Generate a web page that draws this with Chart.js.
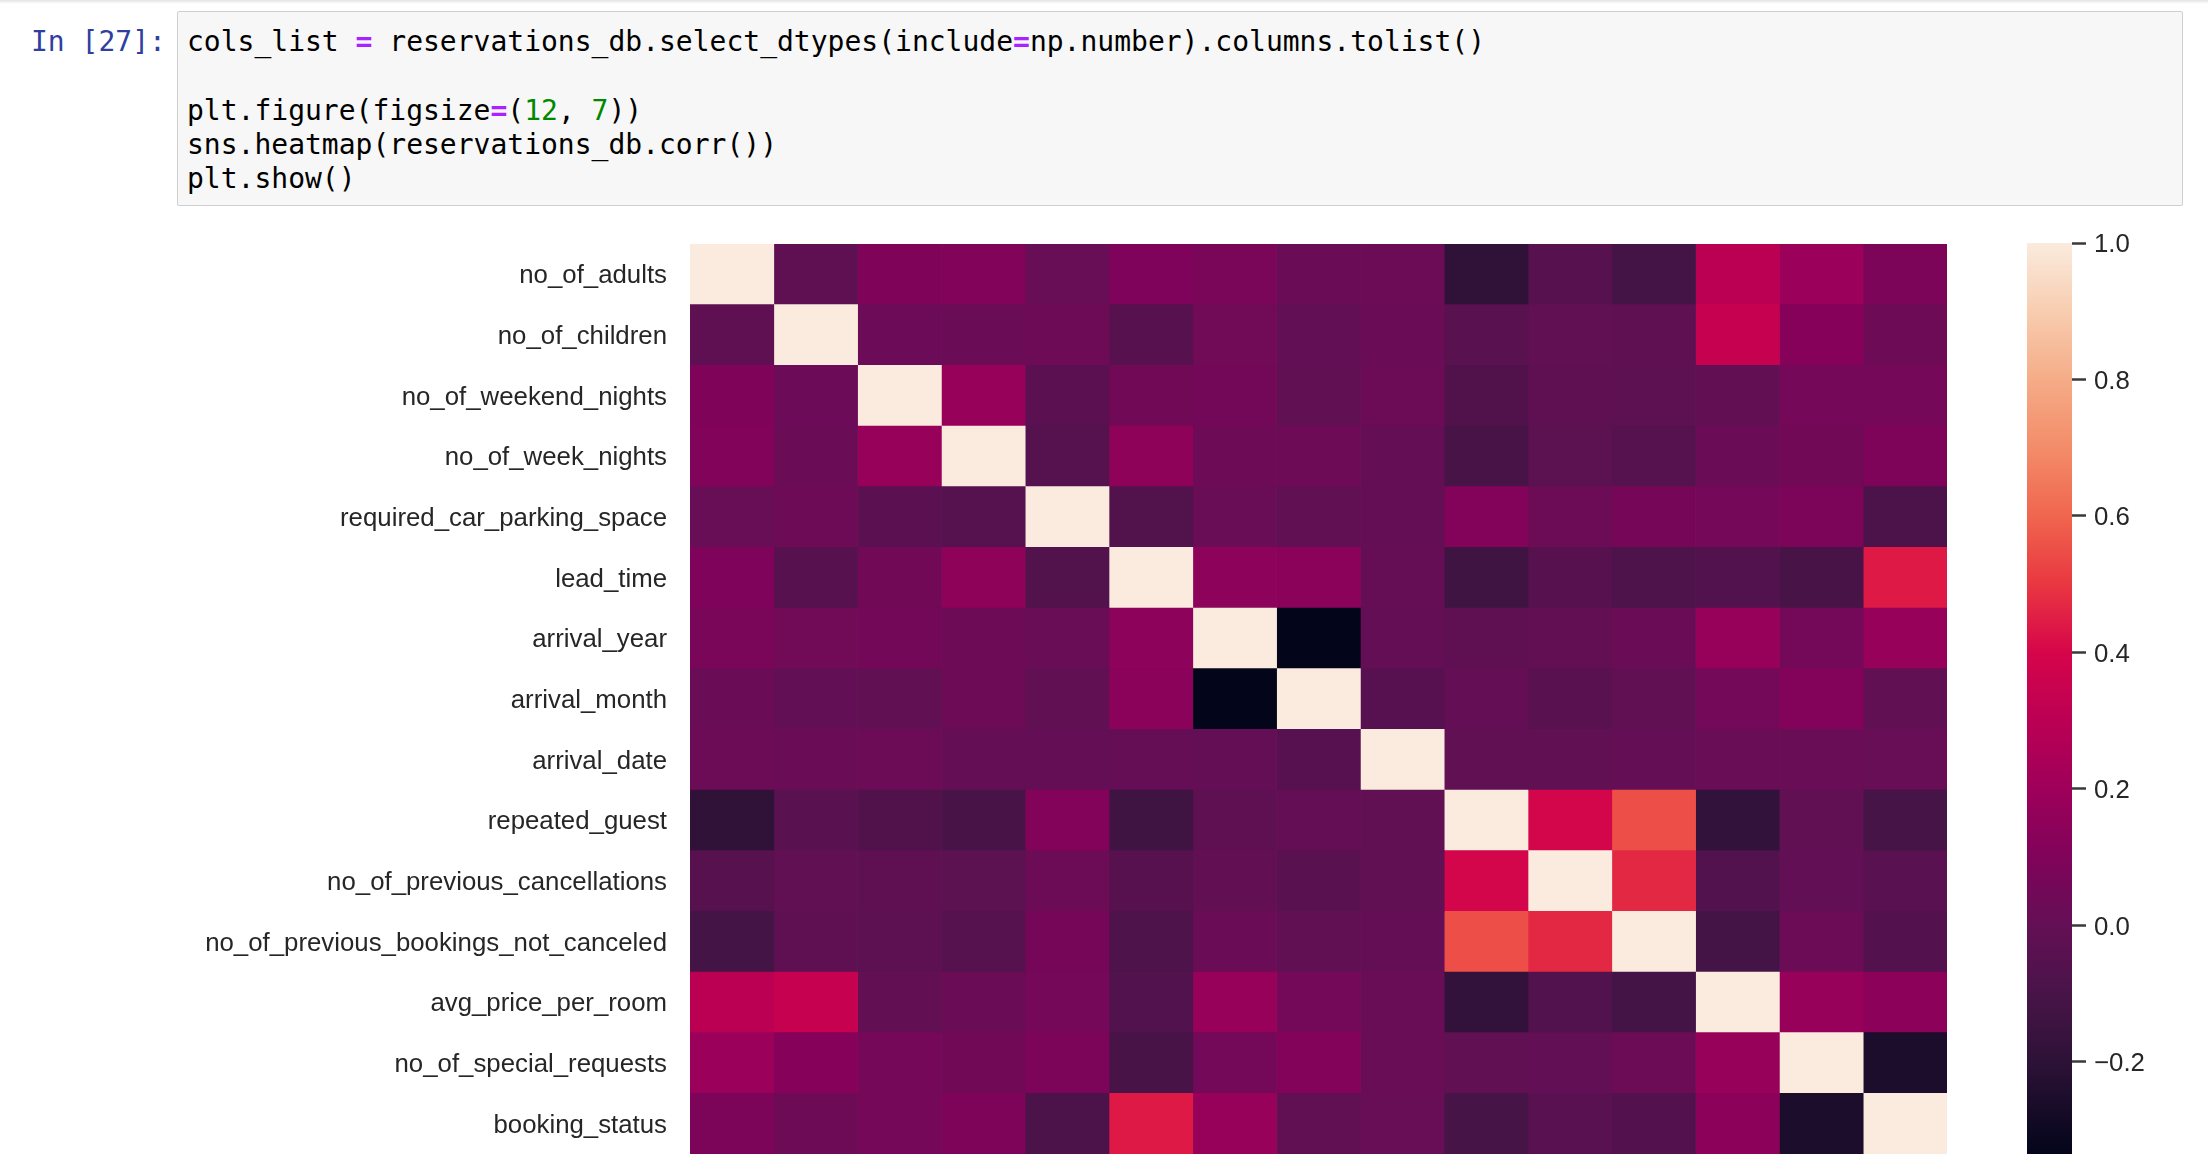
<!DOCTYPE html>
<html>
<head>
<meta charset="utf-8">
<script src="https://cdn.jsdelivr.net/npm/chart.js@4.4.0/dist/chart.umd.min.js"></script>
<style>
html,body{margin:0;padding:0;background:#fff;width:2208px;height:1164px;overflow:hidden;}
#shadow{position:absolute;left:0;top:0;width:2208px;height:4px;background:linear-gradient(#e4e4e4,#fff);}
#prompt{position:absolute;left:31px;top:25px;font-family:"DejaVu Sans Mono",monospace;font-size:28px;line-height:34.3px;color:#303F9F;white-space:pre;margin:0;}
#cell{position:absolute;left:177px;top:11px;width:2004px;height:193px;background:#f7f7f7;border:1px solid #cfcfcf;border-radius:2px;}
#code{position:absolute;left:9px;top:13px;margin:0;font-family:"DejaVu Sans Mono",monospace;font-size:28px;line-height:34.3px;color:#000;white-space:pre;}
.o{color:#AA22FF;font-weight:bold;}
.n{color:#008800;}
#hm{position:absolute;left:0;top:0;}
#cb{position:absolute;left:1990px;top:0;}
</style>
</head>
<body>
<div id="shadow"></div>
<div id="prompt">In [27]:</div>
<div id="cell"><pre id="code">cols_list <span class="o">=</span> reservations_db.select_dtypes(include<span class="o">=</span>np.number).columns.tolist()

plt.figure(figsize<span class="o">=</span>(<span class="n">12</span>, <span class="n">7</span>))
sns.heatmap(reservations_db.corr())
plt.show()</pre></div>
<canvas id="hm" width="1990" height="1164"></canvas>
<canvas id="cb" width="218" height="1164"></canvas>
<script>
// ---- data ----
const features = [
  "no_of_adults","no_of_children","no_of_weekend_nights","no_of_week_nights",
  "required_car_parking_space","lead_time","arrival_year","arrival_month",
  "arrival_date","repeated_guest","no_of_previous_cancellations",
  "no_of_previous_bookings_not_canceled","avg_price_per_room",
  "no_of_special_requests","booking_status"
];
const r_adults     = [1, -0.02, 0.10, 0.105, 0.011, 0.097, 0.076, 0.022, 0.027, -0.19, -0.047, -0.12, 0.30, 0.19, 0.087];
const r_children   = [-0.02, 1, 0.03, 0.024, 0.034, -0.047, 0.045, -0.003, 0.025, -0.036, -0.016, -0.021, 0.34, 0.12, 0.033];
const r_weekend    = [0.10, 0.03, 1, 0.18, -0.031, 0.047, 0.055, -0.01, 0.027, -0.067, -0.02, -0.026, -0.004, 0.06, 0.061];
const r_week       = [0.105, 0.024, 0.18, 1, -0.049, 0.15, 0.033, 0.037, -0.001, -0.10, -0.03, -0.05, 0.022, 0.046, 0.093];
const r_parking    = [0.011, 0.034, -0.031, -0.049, 1, -0.066, 0.015, -0.015, 0.0, 0.11, 0.027, 0.064, 0.062, 0.087, -0.086];
const r_lead       = [0.097, -0.047, 0.047, 0.15, -0.066, 1, 0.143, 0.137, 0.006, -0.135, -0.046, -0.078, -0.063, -0.10, 0.44];
const r_year       = [0.076, 0.045, 0.055, 0.033, 0.015, 0.143, 1, -0.335, 0.0, -0.018, -0.004, 0.026, 0.18, 0.053, 0.18];
const r_month      = [0.022, -0.003, -0.01, 0.037, -0.015, 0.137, -0.335, 1, -0.042, 0.0, -0.038, -0.01, 0.054, 0.11, -0.011];
const r_date       = [0.027, 0.025, 0.027, -0.001, 0.0, 0.006, 0.0, -0.042, 1, -0.015, -0.012, 0.0, 0.018, 0.018, 0.011];
const r_repeated   = [-0.19, -0.036, -0.067, -0.10, 0.11, -0.135, -0.018, 0.0, -0.015, 1, 0.39, 0.55, -0.18, -0.012, -0.107];
const r_prevCanc   = [-0.047, -0.016, -0.02, -0.03, 0.027, -0.046, -0.004, -0.038, -0.012, 0.39, 1, 0.47, -0.063, -0.003, -0.034];
const r_prevNotCanc= [-0.12, -0.021, -0.026, -0.05, 0.064, -0.078, 0.026, -0.01, 0.0, 0.55, 0.47, 1, -0.11, 0.027, -0.06];
const r_price      = [0.30, 0.34, -0.004, 0.022, 0.062, -0.063, 0.18, 0.054, 0.018, -0.18, -0.063, -0.11, 1, 0.18, 0.14];
const r_special    = [0.19, 0.12, 0.06, 0.046, 0.087, -0.10, 0.053, 0.11, 0.018, -0.012, -0.003, 0.027, 0.18, 1, -0.25];
const r_status     = [0.087, 0.033, 0.061, 0.093, -0.086, 0.44, 0.18, -0.011, 0.011, -0.107, -0.034, -0.06, 0.14, -0.25, 1];
const cbTicks = [-0.2, 0.0, 0.2, 0.4, 0.6, 0.8, 1.0];

const corr = [r_adults, r_children, r_weekend, r_week, r_parking, r_lead, r_year, r_month,
  r_date, r_repeated, r_prevCanc, r_prevNotCanc, r_price, r_special, r_status];
const vmin = Math.min(...corr.flat());
const vmax = Math.max(...corr.flat());

// ---- colormap (rocket-like, as seen in the picture) ----
const cmapStops = [
  [-0.335, [3,5,26]], [-0.2, [45,18,55]], [-0.1, [72,20,72]], [0.0, [100,15,85]],
  [0.1, [128,3,90]], [0.2, [158,0,90]], [0.3, [187,0,84]], [0.4, [214,5,74]],
  [0.5, [233,55,65]], [0.6, [240,102,78]], [0.7, [243,140,105]], [0.8, [245,172,135]],
  [0.9, [248,205,176]], [1.0, [250,235,222]]
];
function rgb(c){ return 'rgb(' + c.map(x=>Math.round(x)).join(',') + ')'; }
function cmap(v){
  if (v <= cmapStops[0][0]) return rgb(cmapStops[0][1]);
  for (let k = 1; k < cmapStops.length; k++){
    const [v1,c1] = cmapStops[k];
    if (v <= v1){
      const [v0,c0] = cmapStops[k-1];
      const t = (v - v0) / (v1 - v0);
      return rgb(c0.map((a,i)=>a + (c1[i]-a)*t));
    }
  }
  return rgb(cmapStops[cmapStops.length-1][1]);
}

const labelFont = {family: "'Liberation Sans', Arial, sans-serif", size: 25.8};

// ---- heatmap ----
new Chart(document.getElementById('hm'), {
  type: 'bar',
  data: {
    labels: features,
    datasets: features.map((f, j) => ({
      label: f,
      data: features.map(() => 1),
      backgroundColor: features.map((_, i) => cmap(corr[i][j])),
      borderWidth: 0,
      barPercentage: 1,
      categoryPercentage: 1
    }))
  },
  options: {
    indexAxis: 'y',
    responsive: false,
    animation: false,
    devicePixelRatio: 1,
    layout: {padding: {top: 244, bottom: 10, left: 0, right: 43}},
    plugins: {legend: {display: false}, tooltip: {enabled: false}},
    scales: {
      x: {stacked: true, min: 0, max: 15, display: false},
      y: {
        stacked: true,
        grid: {display: false, drawTicks: false},
        border: {display: false},
        ticks: {font: labelFont, color: '#262626', padding: 23, autoSkip: false, labelOffset: 2},
        afterFit: (s) => { s.width = 690; s.paddingTop = 0; s.paddingBottom = 0; }
      }
    }
  }
});

// ---- colorbar ----
new Chart(document.getElementById('cb'), {
  type: 'bar',
  data: {
    labels: ['cbar'],
    datasets: [{
      data: [[vmin, vmax]],
      backgroundColor: (ctx) => {
        const a = ctx.chart.chartArea;
        if (!a) return '#000';
        const g = ctx.chart.ctx.createLinearGradient(0, a.bottom, 0, a.top);
        cmapStops.forEach(([v, c]) => {
          const t = Math.min(1, Math.max(0, (v - vmin) / (vmax - vmin)));
          g.addColorStop(t, rgb(c));
        });
        return g;
      },
      borderWidth: 0,
      barPercentage: 1,
      categoryPercentage: 1
    }]
  },
  options: {
    responsive: false,
    animation: false,
    devicePixelRatio: 1,
    layout: {padding: {top: 243, bottom: 10, left: 37, right: 0}},
    plugins: {legend: {display: false}, tooltip: {enabled: false}},
    scales: {
      x: {display: false},
      y: {
        position: 'right',
        min: vmin,
        max: vmax,
        afterBuildTicks: (s) => { s.ticks = cbTicks.map(v => ({value: v})); },
        afterFit: (s) => { s.width = 136; s.paddingTop = 0; s.paddingBottom = 0; },
        grid: {drawOnChartArea: false, tickLength: 14, tickWidth: 2.5, tickColor: '#3a3a3a'},
        border: {display: false},
        ticks: {
          padding: 8, font: labelFont, color: '#262626', labelOffset: 2,
          callback: (v) => Number(v).toFixed(1).replace('-', '\u2212')
        }
      }
    }
  }
});
</script>
</body>
</html>
